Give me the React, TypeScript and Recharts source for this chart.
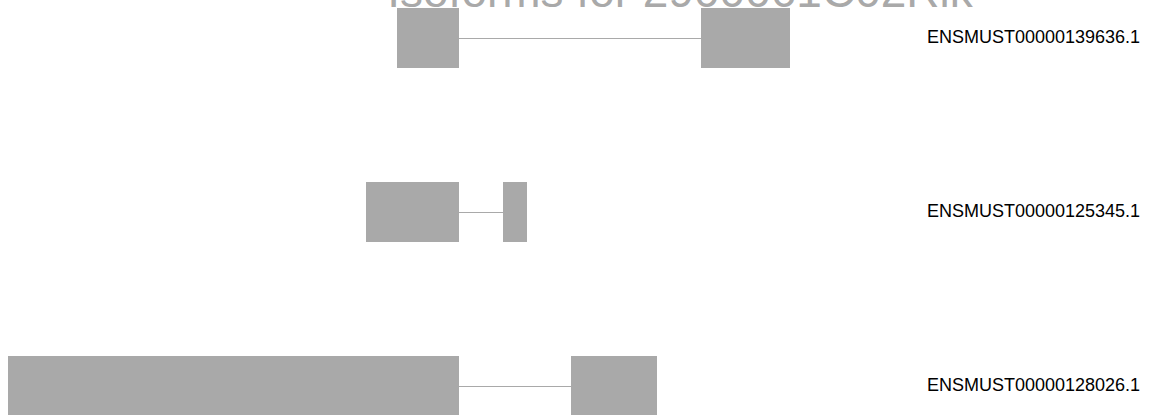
import React from "react";
import { ComposedChart, Bar, XAxis, YAxis, Customized } from "recharts";

const TITLE = "Isoforms for 2900061C02Rik";
const transcripts = ["ENSMUST00000139636.1", "ENSMUST00000125345.1", "ENSMUST00000128026.1"];
const exon1Start = [397, 366, 8];
const exon1End = [459, 459, 459];
const exon2Start = [701, 503, 571];
const exon2End = [790, 527, 657];

const data = transcripts.map((t, i) => ({
  name: t,
  exon1: [exon1Start[i], exon1End[i]],
  exon2: [exon2Start[i], exon2End[i]],
  intron: [exon1End[i], exon2Start[i]],
}));

const GRAY = "#a9a9a9";
const FONT = "Liberation Sans, Arial, sans-serif";

const IntronShape = (props: any) => {
  const { x, y, width, height } = props;
  const cy = Math.round(y + height / 2) + 0.5;
  return <line x1={x} x2={x + width} y1={cy} y2={cy} stroke={GRAY} strokeWidth={1} />;
};

const Title = () => (
  <text x={680} y={56} textAnchor="middle" fontSize={46} fill={GRAY} fontFamily={FONT}>
    {TITLE}
  </text>
);

const LabelTick = (props: any) => {
  const { x, y, payload } = props;
  return (
    <text x={x} y={y} dy={4.5} textAnchor="start" fontSize={18} fill="#000" fontFamily={FONT}>
      {payload.value}
    </text>
  );
};

export default function App() {
  return (
    <div
      style={{
        position: "absolute",
        left: 0,
        top: 0,
        width: 1149,
        height: 415,
        overflow: "hidden",
        background: "#fff",
      }}
    >
      <div style={{ position: "absolute", left: 0, top: -49 }}>
        <ComposedChart
          width={1149}
          height={522}
          data={data}
          layout="vertical"
          margin={{ top: 0, right: 0, bottom: 0, left: 0 }}
          barGap={-60}
        >
          <Customized component={Title} />
          <XAxis type="number" domain={[0, 920]} hide allowDataOverflow />
          <YAxis
            type="category"
            dataKey="name"
            orientation="right"
            width={229}
            axisLine={false}
            tickLine={false}
            tickSize={0}
            tickMargin={7}
            tick={<LabelTick />}
            interval={0}
          />
          <Bar dataKey="intron" barSize={60} shape={<IntronShape />} isAnimationActive={false} />
          <Bar dataKey="exon1" barSize={60} fill={GRAY} isAnimationActive={false} />
          <Bar dataKey="exon2" barSize={60} fill={GRAY} isAnimationActive={false} />
        </ComposedChart>
      </div>
    </div>
  );
}
